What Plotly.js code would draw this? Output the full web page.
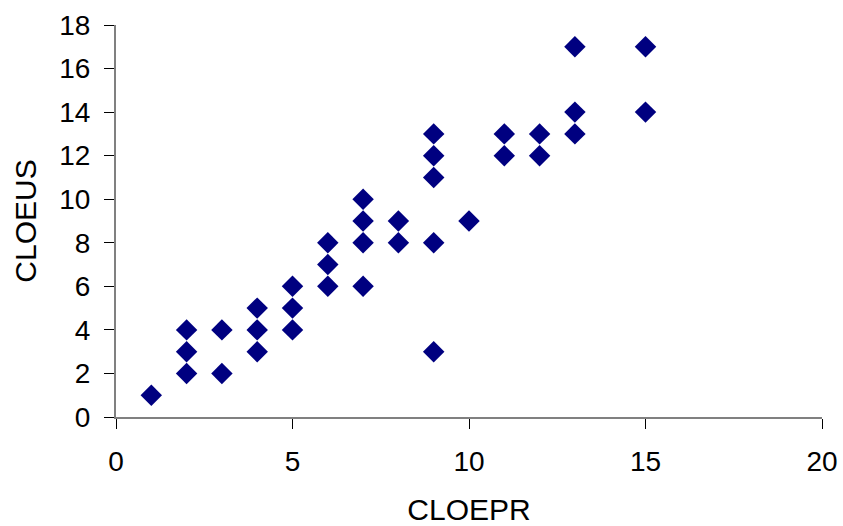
<!DOCTYPE html>
<html>
<head>
<meta charset="utf-8">
<script src="https://cdn.plot.ly/plotly-3.0.1.min.js"></script>
<style>html,body{margin:0;padding:0;background:#fff;}#chart{width:843px;height:526px;}</style>
</head>
<body>
<div id="chart"></div>
<script>
const cloepr = [1, 2, 2, 2, 3, 3, 4, 4, 4, 5, 5, 5, 6, 6, 6, 7, 7, 7, 7, 8, 8, 9, 9, 9, 9, 9, 10, 11, 11, 12, 12, 13, 13, 13, 15, 15];
const cloeus = [1, 4, 3, 2, 4, 2, 5, 4, 3, 6, 5, 4, 8, 7, 6, 10, 9, 8, 6, 9, 8, 13, 12, 11, 8, 3, 9, 13, 12, 13, 12, 17, 14, 13, 17, 14];
const xTicks = [0, 5, 10, 15, 20];
const yTicks = [0, 2, 4, 6, 8, 10, 12, 14, 16, 18];

const font = {family: 'Liberation Sans, Arial, sans-serif', size: 28, color: '#000'};
const titleFont = {family: 'Liberation Sans, Arial, sans-serif', size: 30, color: '#000'};
Plotly.newPlot('chart', [{
  x: cloepr, y: cloeus, type: 'scatter', mode: 'markers',
  marker: {symbol: 'diamond', size: 16.5, color: '#000080', line: {width: 0}}
}], {
  width: 843, height: 526,
  margin: {l: 116, r: 21, t: 25, b: 109},
  paper_bgcolor: '#fff', plot_bgcolor: '#fff',
  showlegend: false,
  font: font,
  xaxis: {
    range: [0, 20], tickvals: xTicks, showgrid: false, zeroline: false,
    showline: true, linecolor: '#808080', linewidth: 2,
    ticks: 'outside', ticklen: 10, tickcolor: '#000', tickwidth: 1,
    ticklabelstandoff: 8,
    tickfont: font,
    title: {text: 'CLOEPR', font: titleFont, standoff: 30}
  },
  yaxis: {
    range: [0, 18], tickvals: yTicks, showgrid: false, zeroline: false,
    showline: true, linecolor: '#808080', linewidth: 2,
    ticks: 'outside', ticklen: 10, tickcolor: '#000', tickwidth: 1,
    ticklabelstandoff: 8,
    tickfont: font,
    title: {text: 'CLOEUS', font: titleFont, standoff: 14}
  }
}, {displayModeBar: false, staticPlot: true});
</script>
</body>
</html>
